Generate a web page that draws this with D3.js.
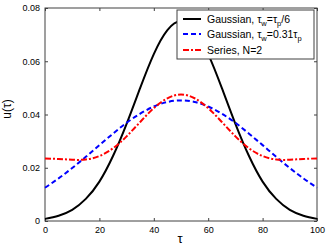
<!DOCTYPE html>
<html>
<head>
<meta charset="utf-8">
<script src="https://cdn.jsdelivr.net/npm/d3@7"></script>
<style>
  body { margin: 0; background: #fff; }
  svg { font-family: "Liberation Sans", Arial, sans-serif; }
</style>
</head>
<body>
<div id="chart"></div>
<script>
// tau sample points (0..100 step 5)
const tau = [0, 5, 10, 15, 20, 25, 30, 35, 40, 45, 50, 55, 60, 65, 70, 75, 80, 85, 90, 95, 100];
const gaussNarrow = [0.0008, 0.0020, 0.0042, 0.0083, 0.0148, 0.0244, 0.0365, 0.0500, 0.0627, 0.0717, 0.0750,
                     0.0717, 0.0627, 0.0500, 0.0365, 0.0244, 0.0148, 0.0083, 0.0042, 0.0020, 0.0008];
const gaussWide = [0.0125, 0.0160, 0.0199, 0.0241, 0.0285, 0.0328, 0.0369, 0.0403, 0.0430, 0.0447, 0.0453,
                   0.0447, 0.0430, 0.0403, 0.0369, 0.0328, 0.0285, 0.0241, 0.0199, 0.0160, 0.0125];
const seriesN2 = [0.0235, 0.0233, 0.0230, 0.0231, 0.0244, 0.0273, 0.0318, 0.0372, 0.0424, 0.0461, 0.0475,
                  0.0461, 0.0424, 0.0372, 0.0318, 0.0273, 0.0244, 0.0231, 0.0230, 0.0233, 0.0235];
const xTicks = [0, 20, 40, 60, 80, 100];
const yTicks = [0, 0.02, 0.04, 0.06, 0.08];
const yTickLabels = ["0", "0.02", "0.04", "0.06", "0.08"];

const W = 327, H = 249;
const m = { left: 45, right: 10, top: 8, bottom: 28 };

const svg = d3.select("#chart").append("svg").attr("width", W).attr("height", H);

const x = d3.scaleLinear().domain([0, 100]).range([m.left, W - m.right]);
const y = d3.scaleLinear().domain([0, 0.08]).range([H - m.bottom, m.top]);

const axisColor = "#404040";

// box
svg.append("rect")
  .attr("x", x(0)).attr("y", y(0.08))
  .attr("width", x(100) - x(0)).attr("height", y(0) - y(0.08))
  .attr("fill", "none").attr("stroke", axisColor).attr("stroke-width", 1);

// axes (ticks inward)
const ax = (g) => g.selectAll(".domain").remove();
svg.append("g").attr("transform", `translate(0,${y(0)})`)
  .call(d3.axisBottom(x).tickValues(xTicks).tickSizeInner(-3).tickSizeOuter(0).tickPadding(6))
  .call(ax);
svg.append("g").attr("transform", `translate(0,${y(0.08)})`)
  .call(d3.axisTop(x).tickValues(xTicks).tickSizeInner(-3).tickSizeOuter(0).tickFormat(""))
  .call(ax);
svg.append("g").attr("transform", `translate(${x(0)},0)`)
  .call(d3.axisLeft(y).tickValues(yTicks).tickSizeInner(-3).tickSizeOuter(0).tickPadding(5)
    .tickFormat((d, i) => yTickLabels[i]))
  .call(ax);
svg.append("g").attr("transform", `translate(${x(100)},0)`)
  .call(d3.axisRight(y).tickValues(yTicks).tickSizeInner(-3).tickSizeOuter(0).tickFormat(""))
  .call(ax);

svg.selectAll(".tick line").attr("stroke", axisColor);
svg.selectAll(".tick text").attr("fill", "#000").attr("font-size", 9)
  .attr("font-family", "Liberation Sans, Arial, sans-serif");

// curves
const line = (vals) => d3.line().x((d, i) => x(tau[i])).y(d => y(d)).curve(d3.curveNatural)(vals);

const series = [
  { vals: gaussNarrow, color: "#000000", dash: null },
  { vals: gaussWide, color: "#0000ff", dash: "5,3" },
  { vals: seriesN2, color: "#ff0000", dash: "6,2,2,2" }
];

series.forEach(s => {
  svg.append("path").attr("d", line(s.vals))
    .attr("fill", "none").attr("stroke", s.color).attr("stroke-width", 2)
    .attr("stroke-dasharray", s.dash);
});

// axis labels
svg.append("text").attr("x", x(50) - 1).attr("y", 243).attr("text-anchor", "middle")
  .attr("font-size", 13).text("τ");
svg.append("text").attr("transform", `translate(11,109) rotate(-90)`)
  .attr("text-anchor", "middle").attr("font-size", 12).text("u(τ)");

// legend
const lg = svg.append("g");
lg.append("rect").attr("x", 177).attr("y", 10).attr("width", 137).attr("height", 49)
  .attr("fill", "#fff").attr("stroke", axisColor).attr("stroke-width", 1);

const legendRows = [
  { y: 19, s: series[0], parts: [["Gaussian, τ", 0], ["w", 1], ["=τ", 0], ["p", 1], ["/6", 0]] },
  { y: 34, s: series[1], parts: [["Gaussian, τ", 0], ["w", 1], ["=0.31τ", 0], ["p", 1]] },
  { y: 50, s: series[2], parts: [["Series, N=2", 0]] }
];
legendRows.forEach(r => {
  lg.append("line").attr("x1", 183).attr("x2", 201).attr("y1", r.y).attr("y2", r.y)
    .attr("stroke", r.s.color).attr("stroke-width", 2).attr("stroke-dasharray", r.s.dash);
  const t = lg.append("text").attr("x", 207).attr("y", r.y + 3.5).attr("font-size", 10.5);
  r.parts.forEach(p => {
    const ts = t.append("tspan").text(p[0]);
    if (p[1]) ts.attr("font-size", 7.5).attr("dy", 3);
    else if (t.selectAll("tspan").size() > 1) ts.attr("dy", -3);
  });
});
</script>
</body>
</html>
